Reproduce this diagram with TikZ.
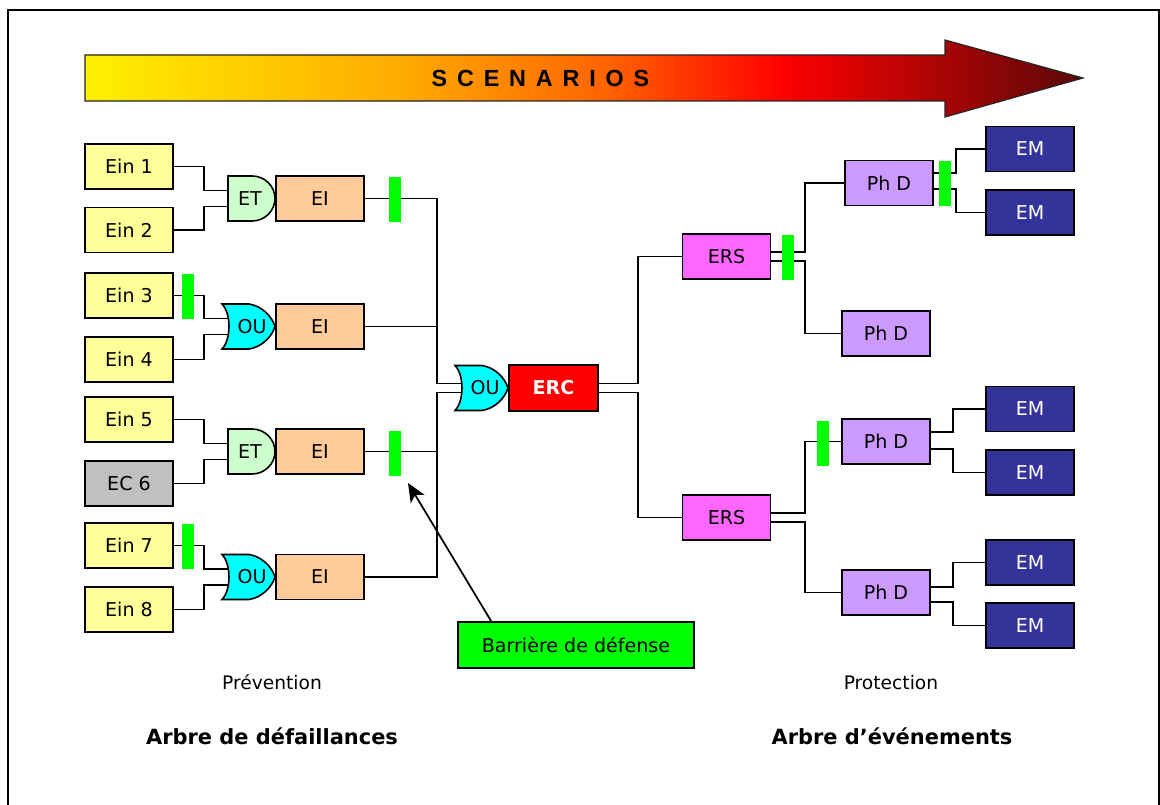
\documentclass[tikz,border=0pt]{standalone}
\usepackage{fontspec}
\setmainfont{DejaVu Sans}
\newfontfamily\arialfont{Liberation Sans}
\usetikzlibrary{arrows.meta,calc}

\definecolor{einyellow}{HTML}{FFFF99}
\definecolor{ecgray}{HTML}{C0C0C0}
\definecolor{etgreen}{HTML}{CCFFCC}
\definecolor{oucyan}{HTML}{00FFFF}
\definecolor{eiorange}{HTML}{FFCC99}
\definecolor{barrgreen}{HTML}{00FF00}
\definecolor{ercred}{HTML}{FF0000}
\definecolor{erspink}{HTML}{FF66FF}
\definecolor{phdlilac}{HTML}{CC99FF}
\definecolor{emblue}{HTML}{333399}
\definecolor{scY}{RGB}{255,240,0}
\definecolor{scO}{RGB}{255,170,0}
\definecolor{scOR}{RGB}{255,100,0}
\definecolor{scR}{RGB}{255,0,0}
\definecolor{scD}{RGB}{90,8,8}

\pgfdeclarehorizontalshading{scenshade}{100bp}{color(0bp)=(scY); color(25bp)=(scY); color(41bp)=(scO); color(51bp)=(scOR); color(60bp)=(scR); color(75bp)=(scD); color(100bp)=(scD)}

\tikzset{
  box/.style={draw=black, line width=1.3pt, minimum width=66pt, minimum height=33.75pt, inner sep=0pt, font=\fontsize{14.3}{16}\selectfont},
  ein/.style={box, fill=einyellow},
  ecbox/.style={box, fill=ecgray},
  eibox/.style={box, fill=eiorange},
  ersbox/.style={box, fill=erspink},
  phdbox/.style={box, fill=phdlilac},
  embox/.style={box, fill=emblue, text=white},
  ercbox/.style={box, fill=ercred, text=white, font=\bfseries\fontsize{14.3}{16}\selectfont, minimum width=66.75pt, minimum height=34.5pt},
  barrbox/.style={box, fill=barrgreen, minimum width=177pt, minimum height=34.5pt},
  gatepath/.style={draw=black, line width=1.2pt},
  gatelabel/.style={inner sep=0pt, font=\fontsize{14.3}{16}\selectfont},
  wire/.style={draw=black, line width=1.3pt},
  barrier/.style={fill=barrgreen, minimum width=9pt, minimum height=33.75pt, inner sep=0pt},
  caption/.style={anchor=base, inner sep=0pt, font=\fontsize{14}{16}\selectfont},
  title/.style={anchor=base, inner sep=0pt, font=\bfseries\fontsize{15.7}{18}\selectfont},
}

% AND gate: #1 left x, #2 centre y, #3 name
\newcommand{\andgatex}[3]{%
  \begin{scope}[shift={(#1,#2)}]
    \draw[gatepath, fill=etgreen] (0,-22.5) -- (24,-22.5) .. controls (36.7,-22.5) and (47,-12.4) .. (47,0) .. controls (47,12.4) and (36.7,22.5) .. (24,22.5) -- (0,22.5) -- cycle;
    \node[gatelabel] (#3) at (22,0) {ET};
    \coordinate (#3-a) at (0,-8);
    \coordinate (#3-b) at (0,8);
  \end{scope}}
% OR gate: #1 left x, #2 centre y, #3 name, #4 input offset
\newcommand{\orgatex}[4]{%
  \begin{scope}[shift={(#1,#2)}]
    \draw[gatepath, fill=oucyan] (0,-22.5) -- (27,-22.5) .. controls (40,-20.5) and (50,-10) .. (53,0) .. controls (50,10) and (40,20.5) .. (27,22.5) -- (0,22.5) .. controls (9.3,13) and (9.3,-13) .. (0,-22.5) -- cycle;
    \node[gatelabel] (#3) at (30,0) {OU};
    \coordinate (#3-a) at (6.4,-#4);
    \coordinate (#3-b) at (6.4,#4);
  \end{scope}}

\begin{document}
\begin{tikzpicture}[x=0.75pt, y=-0.75pt]
\useasboundingbox (0,0) rectangle (1160,805);

% frame
\draw[line width=1.5pt] (8,806) -- (8,10) -- (1159,10) -- (1159,806);

% scenario arrow
\shadedraw[shading=scenshade, draw=black!85, line width=0.9pt] (85,55) -- (945,55) -- (945,40) -- (1083,78) -- (945,117) -- (945,101) -- (85,101) -- cycle;
\node[font=\arialfont\bfseries\fontsize{17.5}{20}\selectfont, inner sep=0pt] (scen) at (540.5,78) {S\kern7.4pt C\kern7.4pt E\kern7.4pt N\kern7.4pt A\kern7.4pt R\kern7.4pt I\kern7.4pt O\kern7.4pt S};

% left inputs
\node[ein] (ein1) at (129,166.5) {Ein 1};
\node[ein] (ein2) at (129,230) {Ein 2};
\node[ein] (ein3) at (129,295.5) {Ein 3};
\node[ein] (ein4) at (129,359.5) {Ein 4};
\node[ein] (ein5) at (129,419.5) {Ein 5};
\node[ecbox] (ec6) at (129,483.5) {EC 6};
\node[ein] (ein7) at (129,545.5) {Ein 7};
\node[ein] (ein8) at (129,609.5) {Ein 8};

% gates
\andgatex{228}{198.5}{g1}
\orgatex{222}{326.5}{g2}{8}
\andgatex{228}{451.5}{g3}
\orgatex{222}{577}{g4}{8}
\orgatex{455}{388}{gerc}{4.5}

% intermediate events
\node[eibox] (ei1) at (320,198.5) {EI};
\node[eibox] (ei2) at (320,326.5) {EI};
\node[eibox] (ei3) at (320,451.5) {EI};
\node[eibox] (ei4) at (320,577) {EI};

% central event
\node[ercbox] (erc) at (553.5,388) {ERC};

% right side
\node[ersbox] (ers1) at (726.5,256.5) {ERS};
\node[ersbox] (ers2) at (726.5,517.5) {ERS};
\node[phdbox] (phd1) at (889,183) {Ph D};
\node[phdbox] (phd2) at (886,333.5) {Ph D};
\node[phdbox] (phd3) at (886,441.5) {Ph D};
\node[phdbox] (phd4) at (886,592.5) {Ph D};
\node[embox] (em1) at (1030,149) {EM};
\node[embox] (em2) at (1030,212.5) {EM};
\node[embox] (em3) at (1030,409) {EM};
\node[embox] (em4) at (1030,472.5) {EM};
\node[embox] (em5) at (1030,562.5) {EM};
\node[embox] (em6) at (1030,625.5) {EM};

% junction columns
\coordinate (JL) at (204,0);
\coordinate (T) at (437,0);
\coordinate (R1) at (638,0);
\coordinate (R2) at (805,0);
\coordinate (R3a) at (956,0);
\coordinate (R3b) at (953,0);

% wires left
\draw[wire] (ein1.east) -- (ein1.east -| JL) |- (g1-a);
\draw[wire] (ein2.east) -- (ein2.east -| JL) |- (g1-b);
\draw[wire] (ein3.east) -- (ein3.east -| JL) |- (g2-a);
\draw[wire] (ein4.east) -- (ein4.east -| JL) |- (g2-b);
\draw[wire] (ein5.east) -- (ein5.east -| JL) |- (g3-a);
\draw[wire] (ec6.east) -- (ec6.east -| JL) |- (g3-b);
\draw[wire] (ein7.east) -- (ein7.east -| JL) |- (g4-a);
\draw[wire] (ein8.east) -- (ein8.east -| JL) |- (g4-b);

% trunks
\draw[wire] (ei1.east) -| (T |- gerc-a) -- (gerc-a);
\draw[wire] (ei2.east) -- (ei2.east -| T);
\draw[wire] (ei4.east) -| (T |- gerc-b) -- (gerc-b);
\draw[wire] (ei3.east) -- (ei3.east -| T);

% right wires
\draw[wire] ($(erc.east)+(0,-4.5)$) -| (R1 |- ers1.west) -- (ers1.west);
\draw[wire] ($(erc.east)+(0,4.5)$) -| (R1 |- ers2.west) -- (ers2.west);
\draw[wire] ($(ers1.east)+(0,-4.5)$) -| (R2 |- phd1.west) -- (phd1.west);
\draw[wire] ($(ers1.east)+(0,4.5)$) -| (R2 |- phd2.west) -- (phd2.west);
\draw[wire] ($(ers2.east)+(0,-4.5)$) -| (R2 |- phd3.west) -- (phd3.west);
\draw[wire] ($(ers2.east)+(0,4.5)$) -| (R2 |- phd4.west) -- (phd4.west);
\draw[wire] ($(phd1.east)+(0,-10)$) -| (R3a |- em1.west) -- (em1.west);
\draw[wire] ($(phd1.east)+(0,6)$) -| (R3a |- em2.west) -- (em2.west);
\draw[wire] ($(phd3.east)+(0,-9.5)$) -| (R3b |- em3.west) -- (em3.west);
\draw[wire] ($(phd3.east)+(0,7.5)$) -| (R3b |- em4.west) -- (em4.west);
\draw[wire] ($(phd4.east)+(0,-5.5)$) -| (R3b |- em5.west) -- (em5.west);
\draw[wire] ($(phd4.east)+(0,9.5)$) -| (R3b |- em6.west) -- (em6.west);

% defence barriers
\node[barrier] (b1) at (395,199.5) {};
\node[barrier] (b2) at (188,296.5) {};
\node[barrier] (b3) at (395,453.5) {};
\node[barrier] (b4) at (188,546.5) {};
\node[barrier] (b5) at (788,257.5) {};
\node[barrier] (b6) at (945,183.5) {};
\node[barrier] (b7) at (823,443.5) {};

% legend box and pointer
\node[barrbox] (barr) at (576,645) {Barrière de défense};
\coordinate (tip) at (408,483);
\draw[wire, -{Stealth[length=14pt,width=12pt,inset=3.5pt]}] ($(barr.north west)+(34,0)$) -- (tip);

% captions
\node[caption] (prev) at (272,689) {Prévention};
\node[caption] (prot) at (891,689) {Protection};
\node[title] (adf) at (272,744) {Arbre de défaillances};
\node[title] (ade) at (892,744) {Arbre d’événements};
\end{tikzpicture}
\end{document}
